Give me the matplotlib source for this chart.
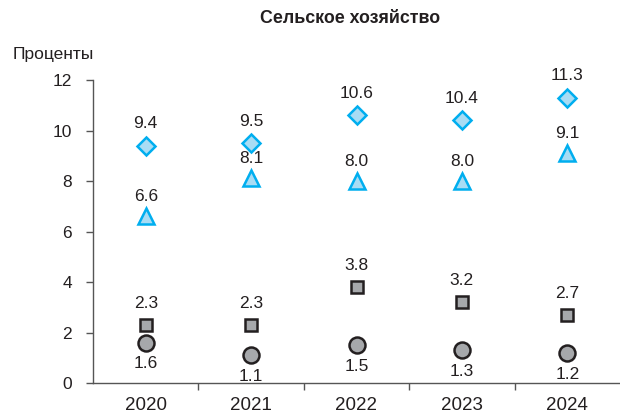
import matplotlib
matplotlib.use("Agg")
import matplotlib.pyplot as plt
from matplotlib import font_manager

years = ["2020", "2021", "2022", "2023", "2024"]
diamond_vals = [9.4, 9.5, 10.6, 10.4, 11.3]
triangle_vals = [6.6, 8.1, 8.0, 8.0, 9.1]
square_vals = [2.3, 2.3, 3.8, 3.2, 2.7]
circle_vals = [1.6, 1.1, 1.5, 1.3, 1.2]

title = "Сельское хозяйство"
ylabel = "Проценты"
yticks = [0, 2, 4, 6, 8, 10, 12]

names = {f.name for f in font_manager.fontManager.ttflist}
fam = ["Liberation Sans Narrow", "DejaVu Sans"] if "Liberation Sans Narrow" in names else ["Liberation Sans", "DejaVu Sans"]
plt.rcParams["font.family"] = fam

txt = "#231f20"
blue_edge = "#00aeef"
blue_fill = "#a8dcf4"
gray_fill = "#a6a8ab"
dark_edge = "#231f20"

fig = plt.figure(figsize=(6.2, 4.15), dpi=100)
ax = fig.add_axes([0.15, 0.0771, 0.85, 0.7301])

x = list(range(len(years)))
ax.plot(x, diamond_vals, linestyle="none", marker="D", ms=9.2, mfc=blue_fill, mec=blue_edge, mew=1.8, zorder=3)
ax.plot(x, triangle_vals, linestyle="none", marker="^", ms=11.5, mfc=blue_fill, mec=blue_edge, mew=1.8, zorder=3)
ax.plot(x, square_vals, linestyle="none", marker="s", ms=8.5, mfc=gray_fill, mec=dark_edge, mew=1.8, zorder=3)
ax.plot(x, circle_vals, linestyle="none", marker="o", ms=11.5, mfc=gray_fill, mec=dark_edge, mew=1.8, zorder=3)

fs = 12.5
for xi, v in zip(x, diamond_vals):
    ax.annotate(f"{v:.1f}", (xi, v), xytext=(0, 10.5), textcoords="offset points",
                ha="center", va="bottom", fontsize=fs, color=txt)
for xi, v in zip(x, triangle_vals):
    ax.annotate(f"{v:.1f}", (xi, v), xytext=(0, 9), textcoords="offset points",
                ha="center", va="bottom", fontsize=fs, color=txt)
for xi, v in zip(x, square_vals):
    ax.annotate(f"{v:.1f}", (xi, v), xytext=(0, 10), textcoords="offset points",
                ha="center", va="bottom", fontsize=fs, color=txt)
for xi, v in zip(x, circle_vals):
    ax.annotate(f"{v:.1f}", (xi, v), xytext=(0, -10), textcoords="offset points",
                ha="center", va="top", fontsize=fs, color=txt)

ax.set_xlim(-0.5, len(years) - 0.5)
ax.set_ylim(0, 12)
ax.set_yticks(yticks)
ax.set_yticklabels([str(t) for t in yticks], fontsize=fs, color=txt)

ax.set_xticks(x)
ax.set_xticklabels(years, fontsize=13.5, color=txt)
ax.tick_params(axis="x", which="major", length=0, pad=10)
ax.set_xticks([i + 0.5 for i in range(len(years) - 1)], minor=True)
ax.tick_params(axis="x", which="minor", length=5, width=1, color="#555555", direction="out")
ax.tick_params(axis="y", length=5, width=1, color="#555555", direction="out", pad=10)

for s in ["top", "right"]:
    ax.spines[s].set_visible(False)
for s in ["left", "bottom"]:
    ax.spines[s].set_color("#555555")
    ax.spines[s].set_linewidth(1)

fig.text(0.565, 0.955, title, ha="center", va="center", fontsize=12.8, fontweight="bold", color=txt)
fig.text(0.02, 0.868, ylabel, ha="left", va="center", fontsize=fs, color=txt)

fig.savefig("out.png", dpi=100)
